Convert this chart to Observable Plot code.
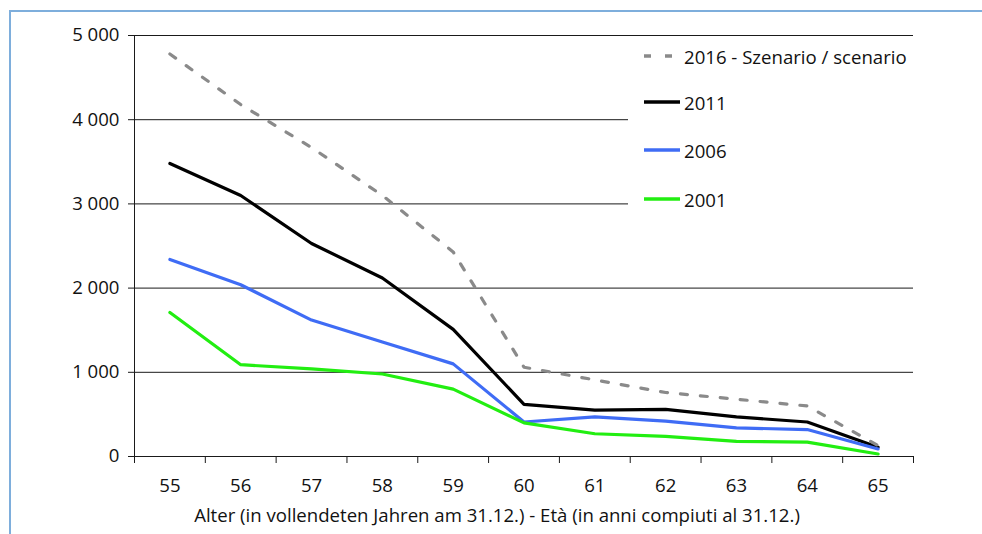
<!DOCTYPE html>
<html>
<head>
<meta charset="utf-8">
<script src="https://cdn.jsdelivr.net/npm/d3@7"></script>
<script src="https://cdn.jsdelivr.net/npm/@observablehq/plot@0.6"></script>
<style>
  html, body { margin: 0; padding: 0; background: #fff; }
  #wrap { position: relative; width: 982px; height: 534px; overflow: hidden; font-family: "Open Sans", sans-serif; }
  #chart svg text { font-size: 18.6px; }
  #frame { position: absolute; left: 9px; top: 10px; width: 1000px; height: 600px;
           border-left: 2px solid #7eaedc; border-top: 2px solid #7eaedc; box-sizing: border-box; pointer-events: none; }
  #legend { position: absolute; left: 628px; top: 36px; width: 300px; height: 190px; background: #fff; }
  .item { position: absolute; left: 16px; height: 22px; display: flex; align-items: center; font-size: 18.6px; color: #111; }
  .item svg { margin-right: 4px; }
</style>
</head>
<body>
<div id="wrap">
  <div id="chart"></div>
  <div id="legend"></div>
  <div id="frame"></div>
</div>
<script>
const ages = [55, 56, 57, 58, 59, 60, 61, 62, 63, 64, 65];
const s2016 = [4780, 4180, 3670, 3100, 2430, 1060, 910, 760, 680, 600, 130];
const s2011 = [3480, 3100, 2530, 2120, 1510, 620, 550, 560, 470, 410, 110];
const s2006 = [2340, 2040, 1620, 1360, 1100, 410, 470, 420, 340, 320, 90];
const s2001 = [1710, 1090, 1040, 980, 800, 400, 270, 240, 180, 170, 30];
const yTicks = [0, 1000, 2000, 3000, 4000, 5000];
const seriesNames = ["2016 - Szenario / scenario", "2011", "2006", "2001"];
const seriesValues = [s2016, s2011, s2006, s2001];
const seriesColors = ["#8a8a8a", "#000000", "#3f6cf5", "#22ee11"];
const xTitle = "Alter (in vollendeten Jahren am 31.12.) - Età (in anni compiuti al 31.12.)";

const rows = [];
seriesNames.forEach((name, i) => ages.forEach((a, j) => rows.push({series: name, age: a, value: seriesValues[i][j]})));
const boundaries = [ages[0] - 0.5, ...ages.map(a => a + 0.5)];
const fmt = d => d3.format(",")(d).replace(/,/g, " ");

const chart = Plot.plot({
  width: 982,
  height: 534,
  marginLeft: 134,
  marginRight: 69,
  marginTop: 35,
  marginBottom: 78,
  style: {fontFamily: "Open Sans, sans-serif", fontSize: "18.6px", color: "#111", background: "transparent"},
  x: {type: "linear", domain: [boundaries[0], boundaries[boundaries.length - 1]]},
  y: {domain: [0, 5000]},
  color: {domain: seriesNames, range: seriesColors},
  marks: [
    Plot.gridY(yTicks, {stroke: "#1a1a1a", strokeOpacity: 1}),
    Plot.axisY(yTicks, {tickFormat: fmt, tickSize: 6, tickPadding: 9, label: null, stroke: "#1a1a1a"}),
    Plot.axisX(boundaries, {tickFormat: () => "", tickSize: 7, label: null, stroke: "#1a1a1a"}),
    Plot.axisX(ages, {tickFormat: d => String(d), tickSize: 0, tickPadding: 22, label: null}),
    Plot.ruleX([boundaries[0]], {stroke: "#1a1a1a"}),
    Plot.ruleY([0], {stroke: "#1a1a1a"}),
    Plot.line(rows.filter(d => d.series !== seriesNames[0]), {
      x: "age", y: "value", z: "series", stroke: "series", strokeWidth: 3.2, strokeLinejoin: "round"
    }),
    Plot.line(rows.filter(d => d.series === seriesNames[0]), {
      x: "age", y: "value", stroke: "series", strokeWidth: 3.2, strokeDasharray: "7,13"
    }),
    Plot.text([xTitle], {frameAnchor: "bottom", dy: 65, dx: -27, fill: "#111"})
  ]
});
document.getElementById("chart").appendChild(chart);

// Legend (white box over the upper gridlines, as in the reference)
const legend = document.getElementById("legend");
const tops = [9, 55, 103, 152];
seriesNames.forEach((name, i) => {
  const item = document.createElement("div");
  item.className = "item";
  item.style.top = tops[i] + "px";
  const dash = i === 0 ? 'stroke-dasharray="7,14"' : '';
  const sw = 3.5;
  item.innerHTML = `<svg width="36" height="8"><line x1="0" x2="36" y1="4" y2="4" stroke="${seriesColors[i]}" stroke-width="${sw}" ${dash}/></svg><span>${name}</span>`;
  legend.appendChild(item);
});
</script>
</body>
</html>
